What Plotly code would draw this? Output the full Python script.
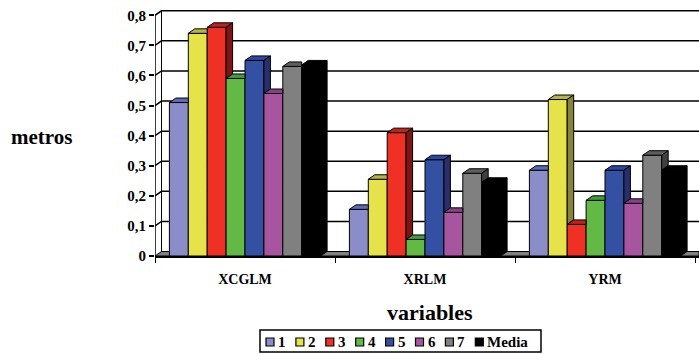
import plotly.graph_objects as go

categories = ["XCGLM", "XRLM", "YRM"]
series_names = ["1", "2", "3", "4", "5", "6", "7", "Media"]
s1 = [0.51, 0.155, 0.285]
s2 = [0.74, 0.255, 0.52]
s3 = [0.76, 0.41, 0.105]
s4 = [0.59, 0.055, 0.185]
s5 = [0.65, 0.32, 0.285]
s6 = [0.54, 0.145, 0.175]
s7 = [0.63, 0.275, 0.335]
media = [0.635, 0.245, 0.285]
series_values = [s1, s2, s3, s4, s5, s6, s7, media]
y_tick_vals = [0, 0.1, 0.2, 0.3, 0.4, 0.5, 0.6, 0.7, 0.8]
y_tick_text = ["0", "0,1", "0,2", "0,3", "0,4", "0,5", "0,6", "0,7", "0,8"]

front_colors = ["#8B8DC8", "#E6E34A", "#EE3124", "#62B946", "#3350A2", "#A855A0", "#808080", "#000000"]
top_colors = ["#5D6AB5", "#B8B53C", "#C0221C", "#3E9E3A", "#2C47A4", "#8C3E8A", "#5E5E5E", "#000000"]
side_colors = ["#454D85", "#85843A", "#7E1515", "#2D6B2A", "#2A2E6A", "#5A2A5A", "#404040", "#000000"]

FONT = "Liberation Serif"
n = len(series_values)
bargap = 0.16
w = (1 - bargap) / n
px_x = 180.0          # pixels per category
px_y = 300.9          # pixels per unit of value
dx = 6.5 / px_x
dy = 4.5 / px_y
xmax = 2.5 + 4 / px_x

L, R, T, B = 155, 0, 10, 98
W_PX, H_PX = 699, 354
plot_w = W_PX - L - R
plot_h = H_PX - T - B


def xp(px):
    return (px - L) / plot_w


def yp(py):
    return (H_PX - B - py) / plot_h


fig = go.Figure()
for i, (name, vals) in enumerate(zip(series_names, series_values)):
    fig.add_trace(go.Bar(
        x=list(range(len(categories))), y=vals, name=name, showlegend=False,
        marker=dict(color=front_colors[i], line=dict(color="black", width=1)),
    ))

for i, vals in enumerate(series_values):
    tx, ty, sx, sy = [], [], [], []
    for c, v in enumerate(vals):
        xl = c - (1 - bargap) / 2 + i * w
        xr = xl + w
        nxt = series_values[i + 1][c] if i + 1 < n else 0.0
        if nxt > v:
            tx += [xl, xr, xr, xl + dx, xl, None]
            ty += [v, v, v + dy, v + dy, v, None]
        else:
            tx += [xl, xr, xr + dx, xl + dx, xl, None]
            ty += [v, v, v + dy, v + dy, v, None]
        base = min(nxt, v)
        if v > nxt or i + 1 == n:
            sx += [xr, xr, xr + dx, xr + dx, xr, None]
            sy += [base, v, v + dy, base + dy, base, None]
    fig.add_trace(go.Scatter(x=tx, y=ty, mode="lines", fill="toself",
                             fillcolor=top_colors[i], line=dict(color="black", width=1),
                             showlegend=False, hoverinfo="skip"))
    fig.add_trace(go.Scatter(x=sx, y=sy, mode="lines", fill="toself",
                             fillcolor=side_colors[i], line=dict(color="black", width=1),
                             showlegend=False, hoverinfo="skip"))

shapes = []
shapes.append(dict(type="path", xref="x", yref="y", layer="below",
                   path=f"M -0.5,0 L {xmax},0 L {xmax},{dy} L {-0.5+dx},{dy} Z",
                   fillcolor="#808080", line=dict(color="black", width=1)))
for v in y_tick_vals[1:]:
    shapes.append(dict(type="path", xref="x", yref="y", layer="below",
                       path=f"M -0.5,{v} L {-0.5+dx},{v+dy} L {xmax},{v+dy}",
                       line=dict(color="black", width=1.5)))
shapes.append(dict(type="line", xref="x", yref="y", layer="below",
                   x0=-0.5 + dx, x1=-0.5 + dx, y0=dy, y1=0.8 + dy,
                   line=dict(color="black", width=1)))
shapes.append(dict(type="line", xref="x", yref="y",
                   x0=-0.5, x1=-0.5, y0=0, y1=0.8,
                   line=dict(color="black", width=1.5)))

annotations = [
    dict(text="metros", xref="paper", yref="paper", x=xp(41.5), y=yp(137),
         showarrow=False, xanchor="center", yanchor="middle",
         font=dict(family=FONT, size=21, color="black", weight="bold")),
    dict(text="variables", xref="paper", yref="paper", x=xp(430), y=yp(312),
         showarrow=False, xanchor="center", yanchor="middle",
         font=dict(family=FONT, size=22, color="black", weight="bold")),
]

shapes.append(dict(type="rect", xref="paper", yref="paper",
                   x0=xp(260), x1=xp(541), y0=yp(330), y1=yp(352),
                   fillcolor="white", line=dict(color="black", width=1.5)))
leg_x0, leg_step, leg_y = 266, 29.9, 342
for i, name in enumerate(series_names):
    sxp = leg_x0 + leg_step * i
    shapes.append(dict(type="rect", xref="paper", yref="paper",
                       x0=xp(sxp), x1=xp(sxp + 8), y0=yp(leg_y - 4), y1=yp(leg_y + 4),
                       fillcolor=front_colors[i], line=dict(color="black", width=1.2)))
    annotations.append(dict(text=name, xref="paper", yref="paper", x=xp(sxp + 10), y=yp(leg_y),
                            showarrow=False, xanchor="left", yanchor="middle",
                            font=dict(family=FONT, size=15, color="black", weight="bold")))

fig.update_layout(
    width=W_PX, height=H_PX,
    margin=dict(l=L, r=R, t=T, b=B),
    paper_bgcolor="white", plot_bgcolor="white",
    barmode="group", bargap=bargap, bargroupgap=0,
    shapes=shapes, annotations=annotations,
    showlegend=False,
    xaxis=dict(range=[-0.5, xmax], tickvals=[0, 1, 2], ticktext=categories,
               ticks="outside", ticklen=9, tickcolor="rgba(0,0,0,0)",
               showgrid=False, zeroline=False, showline=True, linecolor="black", linewidth=1.5,
               tickfont=dict(family=FONT, size=14, color="black", weight="bold"),
               minor=dict(tickvals=[-0.5, 0.5, 1.5, 2.5], ticks="outside", ticklen=5,
                          tickcolor="black", tickwidth=1, showgrid=False)),
    yaxis=dict(range=[0, plot_h / px_y], tickvals=y_tick_vals, ticktext=y_tick_text,
               ticks="outside", ticklen=5, tickcolor="black", tickwidth=1.5,
               showgrid=False, zeroline=False, showline=False,
               tickfont=dict(family=FONT, size=15, color="black", weight="bold")),
)

fig.write_html("out.html")
